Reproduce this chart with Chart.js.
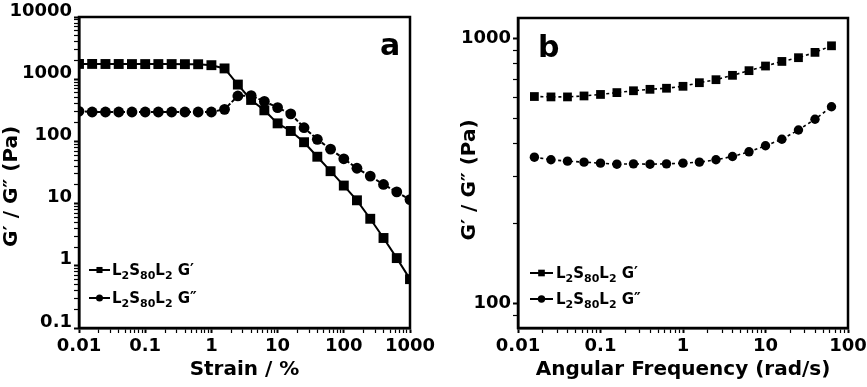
<!DOCTYPE html>
<html>
<head>
<meta charset="utf-8">
<script src="https://cdn.jsdelivr.net/npm/chart.js@4.4.1/dist/chart.umd.min.js"></script>
<style>
html, body { margin: 0; padding: 0; background: #fff; }
#wrap { position: relative; width: 867px; height: 387px; overflow: hidden; }
#chartA { position: absolute; left: 0; top: 0; }
#chartB { position: absolute; left: 432px; top: 0; }
</style>
</head>
<body>
<div id="wrap">
  <canvas id="chartA" width="445" height="387"></canvas>
  <canvas id="chartB" width="435" height="387"></canvas>
</div>
<script>
// panel a : strain sweep
var strain = [0.01, 0.0158, 0.0251, 0.0398, 0.0631, 0.1, 0.158, 0.251, 0.398, 0.631, 1, 1.58, 2.51, 3.98, 6.31, 10, 15.8, 25.1, 39.8, 63.1, 100, 158, 251, 398, 631, 1000];
var strainG1 = [1760, 1760, 1755, 1755, 1750, 1750, 1750, 1750, 1745, 1740, 1680, 1490, 820, 464, 316, 195, 147, 97, 56.7, 33.2, 19.5, 11.3, 5.7, 2.8, 1.33, 0.61];
var strainG2 = [305, 297, 297, 297, 297, 297, 297, 297, 297, 297, 297, 328, 538, 545, 440, 350, 277, 166, 108, 75, 52.5, 37, 27.7, 20.3, 15.4, 11.6];

// panel b : frequency sweep
var freq = [0.0158, 0.0251, 0.0398, 0.0631, 0.1, 0.158, 0.251, 0.398, 0.631, 1, 1.58, 2.51, 3.98, 6.31, 10, 15.8, 25.1, 39.8, 63.1];
var freqG1 = [603, 601, 601, 606, 614, 624, 634, 642, 648, 659, 680, 698, 725, 755, 786, 818, 845, 885, 937];
var freqG2 = [356, 348, 344, 341, 338, 335, 336, 335, 336, 338, 341, 348, 358, 373, 393, 416, 451, 495, 552];

var seriesNames = ['L2S80L2 G\u2032', 'L2S80L2 G\u2033'];
var aXRange = [0.01, 1000];
var aYRange = [0.1, 10000];
var bXRange = [0.01, 100];
var bYRange = [80.7, 1193];

Chart.defaults.font.family = "'DejaVu Sans', sans-serif";
Chart.defaults.font.weight = 'bold';
Chart.defaults.color = '#000';

function toXY(xs, ys) {
    return xs.map(function (x, i) { return { x: x, y: ys[i] }; });
}

// log ticks 1..9 x 10^n inside [min, max], labels only on decades
function logTicks(scale) {
    var lo = Math.floor(Math.log10(scale.min)), hi = Math.ceil(Math.log10(scale.max));
    var out = [];
    for (var e = lo; e <= hi; e++) {
        for (var m = 1; m < 10; m++) {
            var v = Number((m * Math.pow(10, e)).toPrecision(6));
            if (v >= scale.min * 0.999 && v <= scale.max * 1.001) out.push({ value: v, major: m === 1 });
        }
    }
    scale.ticks = out;
}

function tickLabel(value, index, ticks) {
    return ticks[index].major ? String(Number(value.toPrecision(6))) : '';
}

function fixWidth(w) {
    return function (scale) {
        scale.width = w;
        scale.paddingTop = 0; scale.paddingBottom = 0;
    };
}
function fixHeight(h) {
    return function (scale) {
        scale.height = h;
        scale.paddingLeft = 0; scale.paddingRight = 0;
    };
}

function axis(range, title, opts) {
    return {
        type: 'logarithmic',
        min: range[0],
        max: range[1],
        afterBuildTicks: logTicks,
        afterFit: opts.fit,
        ticks: {
            autoSkip: false,
            maxRotation: 0,
            padding: opts.pad,
            labelOffset: opts.labelOffset || 0,
            font: { size: 18, weight: 'bold' },
            callback: tickLabel
        },
        grid: {
            drawOnChartArea: false,
            drawTicks: true,
            tickLength: 5,
            tickColor: '#000',
            tickWidth: function (c) { return c.tick && c.tick.major ? 2 : 1.2; }
        },
        border: { display: true, color: '#000', width: 2.5 },
        title: {
            display: true,
            text: title,
            font: { size: 20, weight: 'bold' },
            padding: opts.titlePad
        }
    };
}

// frame around plot area, panel letter and legend with subscripts
function drawSubText(ctx, text, x, y, size) {
    var parts = text.split(/(\d+)/);
    parts.forEach(function (p) {
        if (!p) return;
        var sub = /^\d+$/.test(p);
        ctx.font = 'bold ' + (sub ? Math.round(size * 0.72) : size) + "px 'DejaVu Sans'";
        ctx.fillText(p, x, y + size * 0.36 + (sub ? size * 0.22 : 0));
        x += ctx.measureText(p).width;
    });
}

var decor = {
    id: 'decor',
    afterDraw: function (chart, args, opts) {
        var ctx = chart.ctx, a = chart.chartArea;
        ctx.save();
        ctx.strokeStyle = '#000';
        ctx.lineWidth = 2.5;
        ctx.strokeRect(a.left, a.top, a.right - a.left, a.bottom - a.top);

        ctx.fillStyle = '#000';
        ctx.font = "bold 30px 'DejaVu Sans'";
        ctx.textBaseline = 'alphabetic';
        ctx.fillText(opts.letter, opts.letterX, opts.letterY);

        var lg = opts.legend;
        chart.data.datasets.forEach(function (ds, i) {
            var y = lg.y + i * lg.gap;
            ctx.lineWidth = 2;
            ctx.setLineDash([]);
            ctx.beginPath();
            ctx.moveTo(lg.x, y);
            ctx.lineTo(lg.x + lg.len, y);
            ctx.stroke();
            Chart.helpers.drawPoint(ctx, { pointStyle: ds.pointStyle, radius: lg.radius[i], borderWidth: 0, rotation: 0 }, lg.x + lg.len / 2, y);
            drawSubText(ctx, ds.label, lg.x + lg.len + lg.pad, y, 15);
        });
        ctx.restore();
    }
};

function datasets(xs, g1, g2, st) {
    return [{
        label: seriesNames[0],
        data: toXY(xs, g1),
        borderColor: '#000',
        backgroundColor: '#000',
        borderWidth: st.lw,
        borderDash: st.dash1,
        pointStyle: 'rect',
        pointRadius: st.sq,
        pointBorderWidth: 0,
        pointHoverRadius: st.sq,
        tension: 0,
        clip: 0
    }, {
        label: seriesNames[1],
        data: toXY(xs, g2),
        borderColor: '#000',
        backgroundColor: '#000',
        borderWidth: st.lw,
        borderDash: st.dash2,
        pointStyle: 'circle',
        pointRadius: st.ci,
        pointBorderWidth: 0,
        pointHoverRadius: st.ci,
        tension: 0,
        clip: 0
    }];
}

new Chart(document.getElementById('chartA'), {
    type: 'line',
    data: { datasets: datasets(strain, strainG1, strainG2, { lw: 2, dash1: [], dash2: [4, 2], sq: 7, ci: 5.4 }) },
    options: {
        responsive: false,
        animation: false,
        layout: { padding: { left: 0, top: 17, right: 35, bottom: 0 } },
        scales: {
            x: axis(aXRange, 'Strain / %', { fit: fixHeight(59), pad: 3, titlePad: { top: 0, bottom: 5 } }),
            y: axis(aYRange, 'G\u2032 / G\u2033 (Pa)    ', { fit: fixWidth(79), pad: 2, labelOffset: -6, titlePad: { top: 0, bottom: 0 } })
        },
        plugins: {
            legend: { display: false },
            tooltip: { enabled: false },
            decor: {
                letter: 'a', letterX: 380, letterY: 55,
                legend: { x: 89, y: 270, gap: 28, len: 21, pad: 2, radius: [4.3, 3.5] }
            }
        }
    },
    plugins: [decor]
});

new Chart(document.getElementById('chartB'), {
    type: 'line',
    data: { datasets: datasets(freq, freqG1, freqG2, { lw: 1.6, dash1: [3, 3], dash2: [3, 3], sq: 6.2, ci: 4.7 }) },
    options: {
        responsive: false,
        animation: false,
        layout: { padding: { left: 26, top: 18, right: 19, bottom: 0 } },
        scales: {
            x: axis(bXRange, 'Angular Frequency (rad/s)', { fit: fixHeight(59), pad: 3, titlePad: { top: 0, bottom: 5 } }),
            y: axis(bYRange, 'G\u2032 / G\u2033 (Pa)  ', { fit: fixWidth(60), pad: 2, titlePad: { top: 0, bottom: 0 } })
        },
        plugins: {
            legend: { display: false },
            tooltip: { enabled: false },
            decor: {
                letter: 'b', letterX: 106, letterY: 57,
                legend: { x: 98, y: 273, gap: 26, len: 23, pad: 3, radius: [4.7, 3.7] }
            }
        }
    },
    plugins: [decor]
});
</script>
</body>
</html>
